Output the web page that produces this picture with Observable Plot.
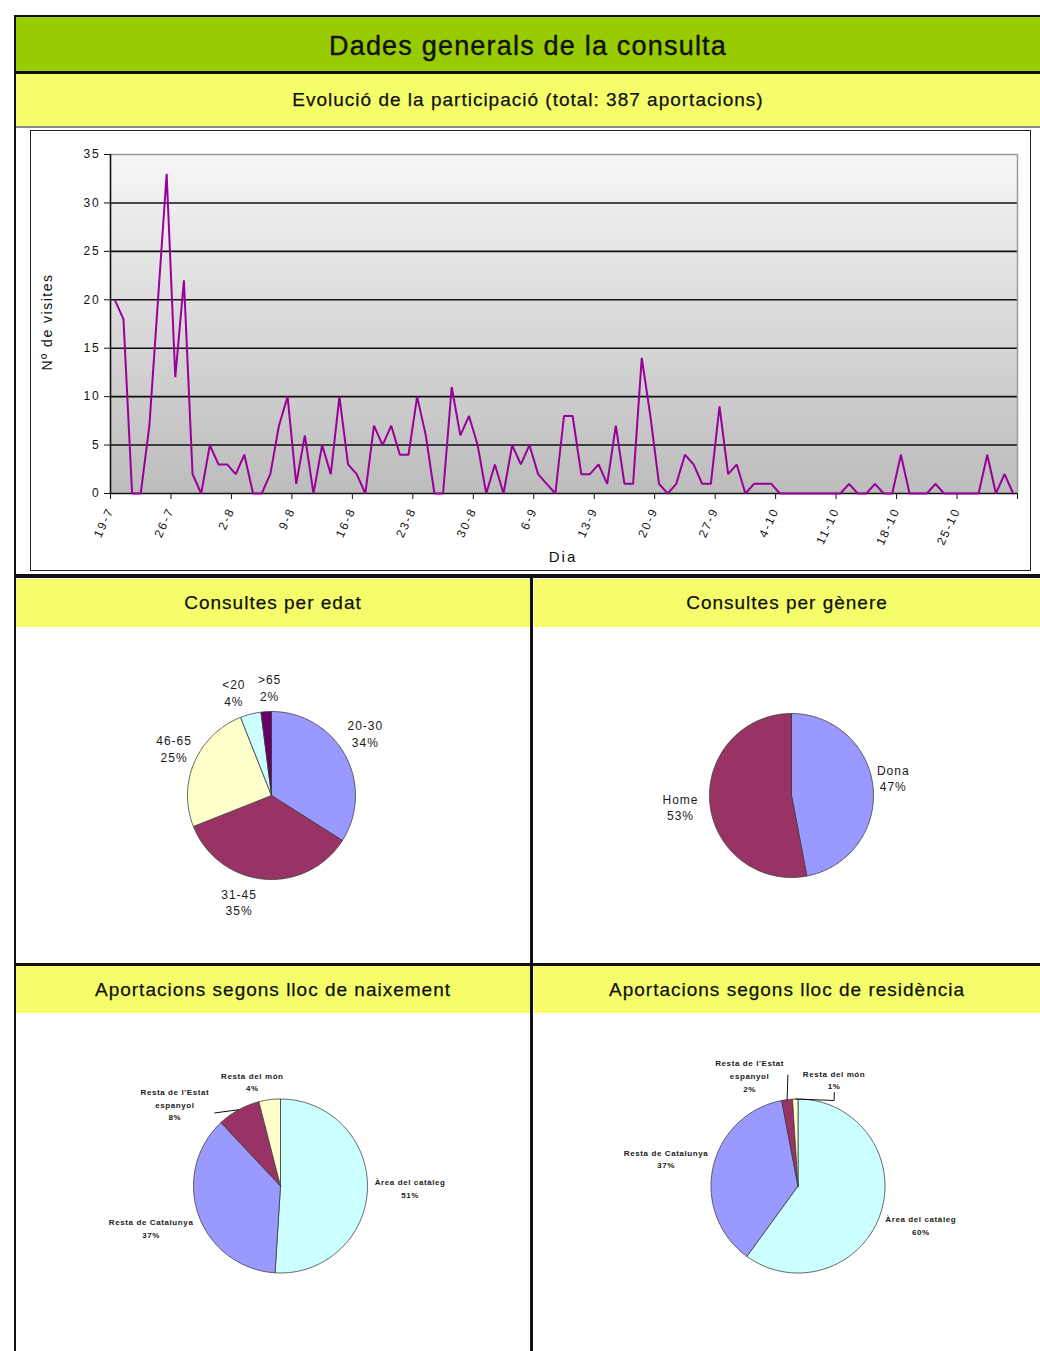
<!DOCTYPE html>
<html><head><meta charset="utf-8">
<script src="https://cdn.jsdelivr.net/npm/d3@7"></script>
<script src="https://cdn.jsdelivr.net/npm/@observablehq/plot@0.6"></script>
<style>
body{margin:0;background:#fff;}
#page{position:relative;width:1040px;height:1351px;overflow:hidden;background:#fff;font-family:"Liberation Sans",Arial,sans-serif;color:#111;}
.blk{position:absolute;}
.bar{position:absolute;display:flex;align-items:center;justify-content:center;white-space:nowrap;box-sizing:border-box;}
.yel{background:#f5fe6a;}
.hdr{font-size:19px;letter-spacing:1px;-webkit-text-stroke:0.25px #111;}
.lbl{position:absolute;white-space:nowrap;font-size:14px;letter-spacing:1.5px;transform:translate(-50%,-50%);}
.plotwrap{position:absolute;}
</style></head>
<body><div id="page">
<div class="blk" style="left:14px;top:15px;width:2px;height:1336px;background:#111"></div>
<div class="blk" style="left:14px;top:15px;width:1026px;height:2px;background:#111"></div>
<div class="bar" style="left:16px;top:17px;width:1024px;height:54px;padding-top:5px;background:#99cc00;font-size:27px;letter-spacing:1.2px;-webkit-text-stroke:0.4px #111;">Dades generals de la consulta</div>
<div class="blk" style="left:14px;top:71px;width:1026px;height:3px;background:#111"></div>
<div class="bar yel hdr" style="left:16px;top:74px;width:1024px;height:52px;">Evolució de la participació (total: 387 aportacions)</div>
<div class="blk" style="left:16px;top:126px;width:1024px;height:2px;background:#8a8a8a"></div>
<div class="blk" style="left:30px;top:130px;width:1001px;height:441px;border:1.5px solid #222;box-sizing:border-box"></div>
<div class="plotwrap" id="lineChart" style="left:31px;top:131px"></div>
<div class="lbl" style="left:47px;top:322px;transform:translate(-50%,-50%) rotate(-90deg)">Nº de visites</div>
<div class="lbl" style="left:563px;top:556px;font-size:15px;letter-spacing:2px">Dia</div>
<div class="blk" style="left:14px;top:574px;width:1026px;height:4px;background:#111"></div>
<div class="bar yel hdr" style="left:16px;top:579px;width:514px;height:48px;">Consultes per edat</div>
<div class="bar yel hdr" style="left:534px;top:579px;width:506px;height:48px;">Consultes per gènere</div>
<div class="plotwrap" id="pieAge" style="left:16px;top:628px"></div>
<div class="plotwrap" id="pieGender" style="left:534px;top:628px"></div>
<div class="blk" style="left:14px;top:963px;width:1026px;height:3px;background:#111"></div>
<div class="bar yel hdr" style="left:16px;top:966px;width:514px;height:47px;">Aportacions segons lloc de naixement</div>
<div class="bar yel hdr" style="left:534px;top:966px;width:506px;height:47px;">Aportacions segons lloc de residència</div>
<div class="plotwrap" id="pieBirth" style="left:16px;top:1014px"></div>
<div class="plotwrap" id="pieRes" style="left:534px;top:1014px"></div>
<div class="blk" style="left:530px;top:578px;width:3px;height:773px;background:#111"></div>
</div>
<script>
// ---------- DATA ----------
const firstDay = [2008, 6, 19]; // 19 July
const dailyVisits = [
  20,18,0,0,7,20,33,12,22,2,0,5,3,3,2,4,0,0,2,7,10,1,6,0,5,2,10,
  3,2,0,7,5,7,4,4,10,6,0,0,11,6,8,5,0,3,0,5,3,5,2,1,0,8,8,
  2,2,3,1,7,1,1,14,8,1,0,1,4,3,1,1,9,2,3,0,1,1,1,0,
  0,0,0,0,0,0,0,1,0,0,1,0,0,4,0,0,0,1,0,0,0,0,0,4,0,2,0
];
const xTickLabels = ["19-7","26-7","2-8","9-8","16-8","23-8","30-8","6-9","13-9","20-9","27-9","4-10","11-10","18-10","25-10",""];
const yTicks = [0,5,10,15,20,25,30,35];

const ageLabels = ["20-30","31-45","46-65","<20",">65"];
const ageValues = [34,35,25,4,2];

const genderLabels = ["Dona","Home"];
const genderValues = [47,53];

const placeLabels = ["Àrea del catàleg","Resta de Catalunya","Resta de l'Estat espanyol","Resta del món"];
const birthValues = [51,37,8,4];
const residenceValues = [60,37,2,1];

const sliceColors5 = ["#9999ff","#993366","#ffffcc","#ccffff","#660066"];
const sliceColors2 = ["#9999ff","#993366"];
const placeColors = ["#ccffff","#9999ff","#993366","#ffffcc"];

// ---------- LINE CHART ----------
const DAY = 864e5;
const t0 = Date.UTC(firstDay[0], firstDay[1], firstDay[2]);
const lineData = dailyVisits.map((v,i)=>({date:new Date(t0 + i*DAY + DAY/2), v}));
const tickDates = xTickLabels.map((_,k)=>new Date(t0 + 7*k*DAY));
const fmtTick = d => xTickLabels[Math.round((+d - t0)/(7*DAY))] ?? "";

const chart = Plot.plot({
  width: 999, height: 439,
  marginLeft: 79, marginRight: 13, marginTop: 23, marginBottom: 77,
  style: {fontFamily: '"Liberation Sans", Arial, sans-serif', fontSize: "12px", letterSpacing: "1.8px", background: "transparent", color: "#111", overflow: "visible"},
  x: {type: "utc", domain: [tickDates[0], tickDates[tickDates.length-1]]},
  y: {domain: [0, 35]},
  marks: [
    Plot.frame({fill: "url(#plotBg)", stroke: null}),
    Plot.ruleY(yTicks.filter(t => t > 0 && t < 35), {stroke: "#111", strokeWidth: 1.6}),
    Plot.ruleY([35], {stroke: "#9a9a9a", strokeWidth: 1.5}),
    Plot.ruleX([tickDates[tickDates.length-1]], {stroke: "#9a9a9a", strokeWidth: 1.5}),
    Plot.axisY({ticks: yTicks, tickSize: 6, tickPadding: 4, label: null, tickFormat: d => String(d)}),
    Plot.axisX({ticks: tickDates, tickFormat: fmtTick, tickRotate: -65, tickSize: 6, tickPadding: 9, label: null}),
    Plot.ruleY([0], {stroke: "#111", strokeWidth: 1.6}),
    Plot.ruleX([tickDates[0]], {stroke: "#111", strokeWidth: 1.6}),
    Plot.line(lineData, {x: "date", y: "v", stroke: "#990099", strokeWidth: 2, strokeLinejoin: "miter"})
  ]
});
{
  const defs = document.createElementNS("http://www.w3.org/2000/svg", "defs");
  defs.innerHTML = '<linearGradient id="plotBg" x1="0" y1="0" x2="0" y2="1"><stop offset="0" stop-color="#f6f6f6"/><stop offset="1" stop-color="#bcbcbc"/></linearGradient>';
  chart.prepend(defs);
}
document.getElementById("lineChart").appendChild(chart);

// ---------- PIES ----------
function polar(angleDeg, k){ const a = angleDeg*Math.PI/180; return {x: k*Math.sin(a), y: k*Math.cos(a)}; }

function makePie(cfg){
  const {labels, values, colors, W, H, cx, cy, r, layout, fontSize, lineHeight, fontWeight, letterSpacing, leaders} = cfg;
  const total = d3.sum(values);
  let acc = 0;
  const slices = values.map((v,i)=>{ const a0 = acc/total*360; acc += v; const a1 = acc/total*360; return {label: labels[i], value: v, a0, a1, mid: (a0+a1)/2}; });
  const poly = [];
  slices.forEach(s=>{
    poly.push({label: s.label, x: 0, y: 0});
    const n = Math.max(2, Math.ceil(s.a1 - s.a0));
    for (let k = 0; k <= n; k++){ const p = polar(s.a0 + (s.a1 - s.a0)*k/n, 1); poly.push({label: s.label, x: p.x, y: p.y}); }
    poly.push({label: s.label, x: 0, y: 0});
  });
  const texts = slices.map((s,i)=>{ const p = polar(layout[i][0], layout[i][1]); return {x: p.x, y: p.y, text: (cfg.wrap ? cfg.wrap(s.label) : s.label) + "\n" + s.value + "%"}; });
  const leaderPts = [];
  (leaders || []).forEach((ld, j)=>{
    const s = slices[ld.slice];
    const pts = [polar(s.mid, 1), ...ld.path.map(q => polar(q[0], q[1]))];
    pts.forEach(p => leaderPts.push({id: j, x: p.x, y: p.y}));
  });
  return Plot.plot({
    width: W, height: H,
    marginLeft: cx - r, marginRight: W - cx - r, marginTop: cy - r, marginBottom: H - cy - r,
    x: {domain: [-1, 1], axis: null},
    y: {domain: [-1, 1], axis: null},
    color: {domain: labels, range: colors},
    style: {fontFamily: '"Liberation Sans", Arial, sans-serif', letterSpacing: letterSpacing, background: "transparent", color: "#111", overflow: "visible"},
    marks: [
      Plot.line(poly, {x: "x", y: "y", z: "label", fill: "label", stroke: "#3c3c3c", strokeWidth: 0.8, strokeLinejoin: "round"}),
      Plot.line(leaderPts, {x: "x", y: "y", z: "id", stroke: "#111", strokeWidth: 1}),
      Plot.text(texts, {x: "x", y: "y", text: "text", fontSize: fontSize, lineHeight: lineHeight, fontWeight: fontWeight, fill: "#1a1a1a"})
    ]
  });
}

const wrapPlace = s => s === "Resta de l'Estat espanyol" ? "Resta de l'Estat\nespanyol" : s;

document.getElementById("pieAge").appendChild(makePie({
  labels: ageLabels, values: ageValues, colors: sliceColors5,
  W: 514, H: 335, cx: 255, cy: 167, r: 84,
  layout: [[56.5,1.34],[197,1.32],[296,1.29],[340,1.31],[359,1.29]],
  fontSize: 12, lineHeight: 1.4, fontWeight: "normal", letterSpacing: "1px"
}));
document.getElementById("pieGender").appendChild(makePie({
  labels: genderLabels, values: genderValues, colors: sliceColors2,
  W: 506, H: 335, cx: 257, cy: 167, r: 82,
  layout: [[80,1.26],[264.3,1.36]],
  fontSize: 12, lineHeight: 1.4, fontWeight: "normal", letterSpacing: "1px"
}));
document.getElementById("pieBirth").appendChild(makePie({
  labels: placeLabels, values: birthValues, colors: placeColors,
  W: 514, H: 337, cx: 264, cy: 171.5, r: 87,
  layout: [[90.7,1.49],[252.4,1.56],[308,1.54],[345,1.25]],
  fontSize: 8, lineHeight: 1.6, fontWeight: "bold", letterSpacing: "0.6px", wrap: wrapPlace,
  leaders: [{slice: 2, path: [[318,1.13]]}]
}));
document.getElementById("pieRes").appendChild(makePie({
  labels: placeLabels, values: residenceValues, colors: placeColors,
  W: 506, H: 337, cx: 263.5, cy: 171.5, r: 87,
  layout: [[107.5,1.48],[282,1.55],[336.4,1.39],[18.6,1.3]],
  fontSize: 8, lineHeight: 1.6, fontWeight: "bold", letterSpacing: "0.6px", wrap: wrapPlace,
  leaders: [{slice: 2, path: [[354.8,1.28]]}, {slice: 3, path: [[22.9,1.067],[21.2,1.153]]}]
}));
</script>
</body></html>
